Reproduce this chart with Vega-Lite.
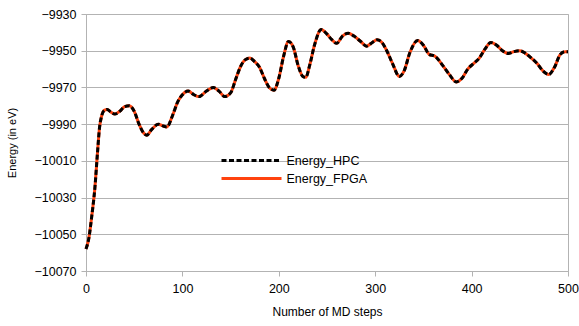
{
  "$schema": "https://vega.github.io/schema/vega-lite/v6.json",
  "width": 482,
  "height": 257,
  "autosize": {"type": "none"},
  "padding": {"left": 86, "top": 14, "right": 11, "bottom": 55},
  "config": {
    "font": "Liberation Sans",
    "view": {"stroke": "#b3b3b3", "strokeWidth": 1},
    "axis": {
      "gridColor": "#b3b3b3",
      "domainColor": "#b3b3b3",
      "tickColor": "#b3b3b3",
      "labelColor": "#000000",
      "titleColor": "#000000",
      "labelFont": "Liberation Sans",
      "titleFont": "Liberation Sans",
      "labelFontSize": 12.5,
      "titleFontSize": 12,
      "titleFontWeight": "normal",
      "tickSize": 5,
      "labelOverlap": false,
      "labelFlush": false
    }
  },
  "data": {
    "values": [
      {"step": 0, "hpc": -10058},
      {"step": 3, "hpc": -10052},
      {"step": 6, "hpc": -10040},
      {"step": 9, "hpc": -10026},
      {"step": 12, "hpc": -10005},
      {"step": 14, "hpc": -9992},
      {"step": 16, "hpc": -9986},
      {"step": 19, "hpc": -9982.5},
      {"step": 22, "hpc": -9982},
      {"step": 26, "hpc": -9983.5},
      {"step": 30, "hpc": -9984.5},
      {"step": 35, "hpc": -9983},
      {"step": 40, "hpc": -9980.5},
      {"step": 45, "hpc": -9980},
      {"step": 50, "hpc": -9983},
      {"step": 55, "hpc": -9990},
      {"step": 60, "hpc": -9995},
      {"step": 63, "hpc": -9996},
      {"step": 68, "hpc": -9993},
      {"step": 75, "hpc": -9990},
      {"step": 80, "hpc": -9991},
      {"step": 84, "hpc": -9991.5},
      {"step": 90, "hpc": -9985},
      {"step": 95, "hpc": -9978},
      {"step": 100, "hpc": -9974},
      {"step": 106, "hpc": -9972},
      {"step": 112, "hpc": -9974},
      {"step": 117, "hpc": -9975},
      {"step": 125, "hpc": -9972},
      {"step": 132, "hpc": -9970},
      {"step": 138, "hpc": -9972},
      {"step": 144, "hpc": -9975},
      {"step": 150, "hpc": -9973},
      {"step": 155, "hpc": -9966},
      {"step": 160, "hpc": -9959},
      {"step": 165, "hpc": -9955},
      {"step": 170, "hpc": -9954},
      {"step": 175, "hpc": -9956},
      {"step": 180, "hpc": -9959},
      {"step": 185, "hpc": -9965},
      {"step": 190, "hpc": -9970},
      {"step": 195, "hpc": -9971.5},
      {"step": 200, "hpc": -9965},
      {"step": 205, "hpc": -9953},
      {"step": 210, "hpc": -9945},
      {"step": 215, "hpc": -9948},
      {"step": 220, "hpc": -9958},
      {"step": 225, "hpc": -9964},
      {"step": 228, "hpc": -9964.5},
      {"step": 232, "hpc": -9958},
      {"step": 237, "hpc": -9947},
      {"step": 244, "hpc": -9938.5},
      {"step": 250, "hpc": -9941},
      {"step": 255, "hpc": -9944},
      {"step": 260, "hpc": -9946},
      {"step": 266, "hpc": -9942},
      {"step": 272, "hpc": -9940.5},
      {"step": 278, "hpc": -9942},
      {"step": 285, "hpc": -9945},
      {"step": 291, "hpc": -9947.5},
      {"step": 297, "hpc": -9945.5},
      {"step": 302, "hpc": -9944},
      {"step": 307, "hpc": -9945.5},
      {"step": 312, "hpc": -9950},
      {"step": 318, "hpc": -9957},
      {"step": 325, "hpc": -9964},
      {"step": 330, "hpc": -9961},
      {"step": 336, "hpc": -9951},
      {"step": 344, "hpc": -9944.5},
      {"step": 350, "hpc": -9947},
      {"step": 356, "hpc": -9952},
      {"step": 362, "hpc": -9953},
      {"step": 370, "hpc": -9958},
      {"step": 377, "hpc": -9963},
      {"step": 384, "hpc": -9967},
      {"step": 390, "hpc": -9965},
      {"step": 396, "hpc": -9960},
      {"step": 402, "hpc": -9957},
      {"step": 408, "hpc": -9954},
      {"step": 414, "hpc": -9949},
      {"step": 420, "hpc": -9945.5},
      {"step": 426, "hpc": -9947},
      {"step": 432, "hpc": -9950},
      {"step": 438, "hpc": -9951.5},
      {"step": 444, "hpc": -9950.5},
      {"step": 450, "hpc": -9950},
      {"step": 456, "hpc": -9951.5},
      {"step": 462, "hpc": -9954},
      {"step": 468, "hpc": -9957},
      {"step": 474, "hpc": -9961},
      {"step": 480, "hpc": -9963},
      {"step": 486, "hpc": -9959},
      {"step": 492, "hpc": -9952},
      {"step": 497, "hpc": -9950.5},
      {"step": 500, "hpc": -9950.5}
    ]
  },
  "transform": [
    {"fold": ["hpc"], "as": ["k", "energy"]}
  ],
  "layer": [
    {
      "mark": {"type": "line", "interpolate": "monotone", "strokeWidth": 3, "color": "#ff420e"},
      "encoding": {
        "x": {"field": "step", "type": "quantitative"},
        "y": {"field": "energy", "type": "quantitative"}
      }
    },
    {
      "mark": {"type": "line", "interpolate": "monotone", "strokeWidth": 3, "color": "#000000", "strokeDash": [5, 2.5]},
      "encoding": {
        "x": {
          "field": "step", "type": "quantitative",
          "scale": {"domain": [0, 500], "nice": false, "zero": false},
          "axis": {"title": "Number of MD steps", "values": [0, 100, 200, 300, 400, 500], "tickCount": 10, "grid": false, "labelPadding": 6, "titlePadding": 12}
        },
        "y": {
          "field": "energy", "type": "quantitative",
          "scale": {"domain": [-10070, -9930], "nice": false, "zero": false},
          "axis": {"title": "Energy (in eV)", "titleFontSize": 11, "values": [-10070, -10050, -10030, -10010, -9990, -9970, -9950, -9930], "tickCount": 12, "format": "d", "labelPadding": 5, "titlePadding": 16}
        }
      }
    },
    {
      "data": {"values": [{"series": "Energy_HPC"}, {"series": "Energy_FPGA"}]},
      "mark": {"type": "point", "opacity": 0},
      "encoding": {
        "color": {
          "field": "series", "type": "nominal",
          "scale": {"domain": ["Energy_HPC", "Energy_FPGA"], "range": ["#000000", "#ff420e"]},
          "legend": {
            "title": null,
            "orient": "none",
            "legendX": 158,
            "legendY": 139,
            "symbolType": "M-5,0H5",
            "symbolSize": 144,
            "symbolStrokeWidth": 3,
            "symbolOpacity": 1,
            "labelFontSize": 12.5,
            "labelColor": "#000000",
            "labelFont": "Liberation Sans",
            "labelOffset": 27.5,
            "rowPadding": 4
          }
        },
        "strokeDash": {
          "field": "series", "type": "nominal",
          "scale": {"domain": ["Energy_HPC", "Energy_FPGA"], "range": [[5, 2.5], [1, 0]]},
          "legend": null
        }
      }
    }
  ]
}
